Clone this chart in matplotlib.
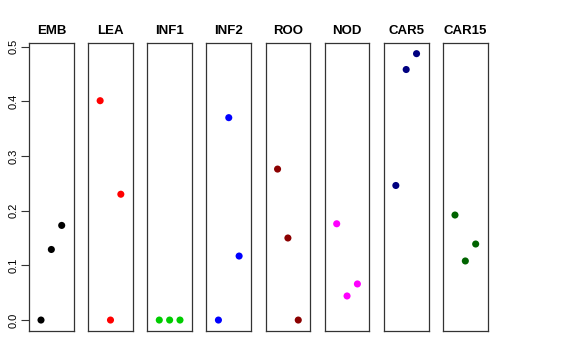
import matplotlib
matplotlib.use("Agg")
import matplotlib.pyplot as plt

plt.rcParams["font.family"] = ["Liberation Sans", "DejaVu Sans"]

# values, three samples per group
groups = ["EMB", "LEA", "INF1", "INF2", "ROO", "NOD", "CAR5", "CAR15"]
emb = [0.0, 0.129, 0.173]
lea = [0.401, 0.0, 0.230]
inf1 = [0.0, 0.0, 0.0]
inf2 = [0.0, 0.370, 0.117]
roo = [0.276, 0.150, 0.0]
nod = [0.176, 0.044, 0.066]
car5 = [0.246, 0.458, 0.487]
car15 = [0.192, 0.108, 0.139]
colors = ["black", "red", "#00CD00", "blue", "#8B0000", "magenta", "#000080", "#006400"]
samples = [1, 2, 3]

series = [emb, lea, inf1, inf2, roo, nod, car5, car15]
ymax = max(max(s) for s in series)
pad = 0.04 * ymax

W, H = 576, 360
fig = plt.figure(figsize=(W / 100, H / 100), dpi=100)

for i, (name, vals, col) in enumerate(zip(groups, series, colors)):
    left = 29 + i * 59.14
    ax = fig.add_axes([left / W, 29.3 / H, 44.7 / W, 287.7 / H])
    ax.scatter(samples, vals, s=26, color=col, edgecolors="none", zorder=3)
    ax.set_xlim(-0.16, 4.16)
    ax.set_ylim(0 - pad, ymax + pad)
    ax.set_xticks([])
    ax.set_title(name, fontsize=9.5, fontweight="bold", pad=6.5)
    for sp in ax.spines.values():
        sp.set_linewidth(0.9)
        sp.set_color("#333333")
    if i == 0:
        ax.set_yticks([0, 0.1, 0.2, 0.3, 0.4, 0.5])
        ax.set_yticklabels(["0.0", "0.1", "0.2", "0.3", "0.4", "0.5"],
                           rotation=90, va="center", fontsize=8)
        ax.tick_params(axis="y", length=5.5, width=0.8, pad=2, color="#333333")
    else:
        ax.set_yticks([])

fig.savefig("out.png", dpi=100)
